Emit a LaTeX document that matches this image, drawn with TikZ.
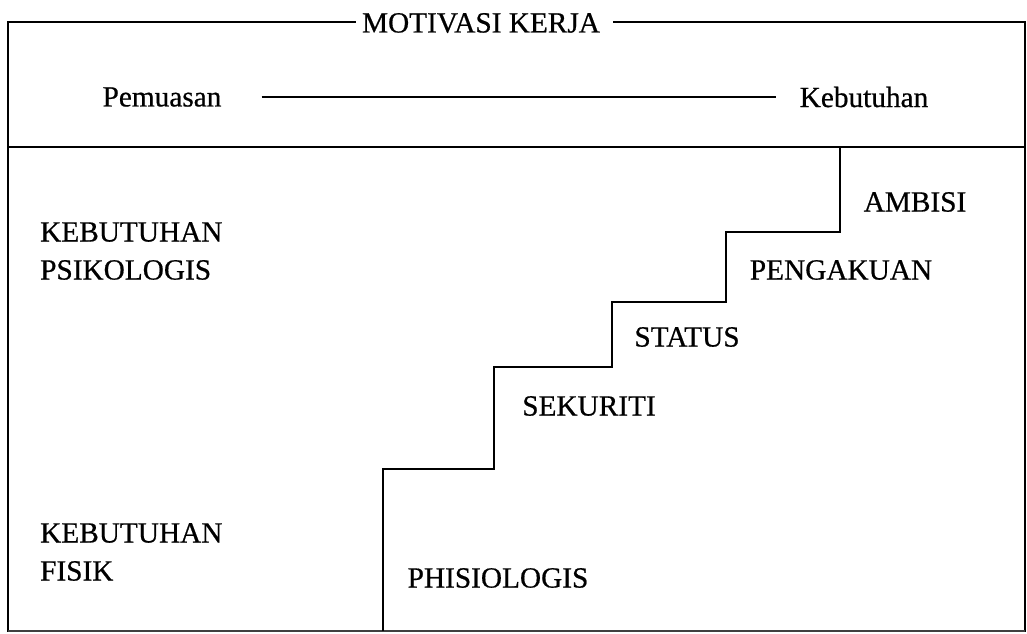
\documentclass[tikz,border=0pt]{standalone}
\usepackage{fontspec}
\setmainfont{Liberation Serif}[FakeBold=0.6]
\begin{document}
\begin{tikzpicture}[x=1pt,y=-1pt,
  lbl/.style={font=\fontsize{29.3}{38}\selectfont, inner sep=0pt, align=left},
  frame/.style={line width=2.8pt, line cap=rect},
  stair/.style={line width=2.8pt, line join=miter}]
\useasboundingbox (0,0) rectangle (1027,633);
% frame corners
\coordinate (tl) at (8,22);
\coordinate (tr) at (1025,22);
\coordinate (bl) at (8,631);
\coordinate (br) at (1025,631);
\coordinate (dl) at (8,147);
\coordinate (dr) at (1025,147);
% title
\node[lbl] (title) at (481,23) {MOTIVASI KERJA};
\coordinate (tgl) at (355,22);
\coordinate (tgr) at (614,22);
\draw[frame] (tgl) -- (tl) -- (bl);
\draw[frame] (tgr) -- (tr) -- (br);
\draw[line width=1.6pt, black!75] (bl) -- (br);
\draw[frame] (dl) -- (dr);
% top band
\node[lbl] (pem) at (162,97) {Pemuasan};
\node[lbl] (keb) at (864,97) {Kebutuhan};
\draw[line width=2.6pt] ([xshift=40pt]pem.east) -- ([xshift=-24pt]keb.west);
% staircase
\coordinate (s0) at (383,631);
\coordinate (s1) at (383,469);
\coordinate (s2) at (494,469);
\coordinate (s3) at (494,367);
\coordinate (s4) at (612,367);
\coordinate (s5) at (612,302);
\coordinate (s6) at (726,302);
\coordinate (s7) at (726,232);
\coordinate (s8) at (840,232);
\coordinate (s9) at (840,147);
\draw[stair] (s0) -- (s1) -- (s2) -- (s3) -- (s4) -- (s5) -- (s6) -- (s7) -- (s8) -- (s9);
% left labels
\node[lbl, anchor=west] (psi) at (40,251) {KEBUTUHAN\\PSIKOLOGIS};
\node[lbl, anchor=west] (fis) at (40,552) {KEBUTUHAN\\FISIK};
% stair labels
\node[lbl] (amb) at (915,202) {AMBISI};
\node[lbl] (pen) at (841,270) {PENGAKUAN};
\node[lbl] (sta) at (687,337) {STATUS};
\node[lbl] (sek) at (589,406) {SEKURITI};
\node[lbl] (phi) at (498,578) {PHISIOLOGIS};
\end{tikzpicture}
\end{document}
